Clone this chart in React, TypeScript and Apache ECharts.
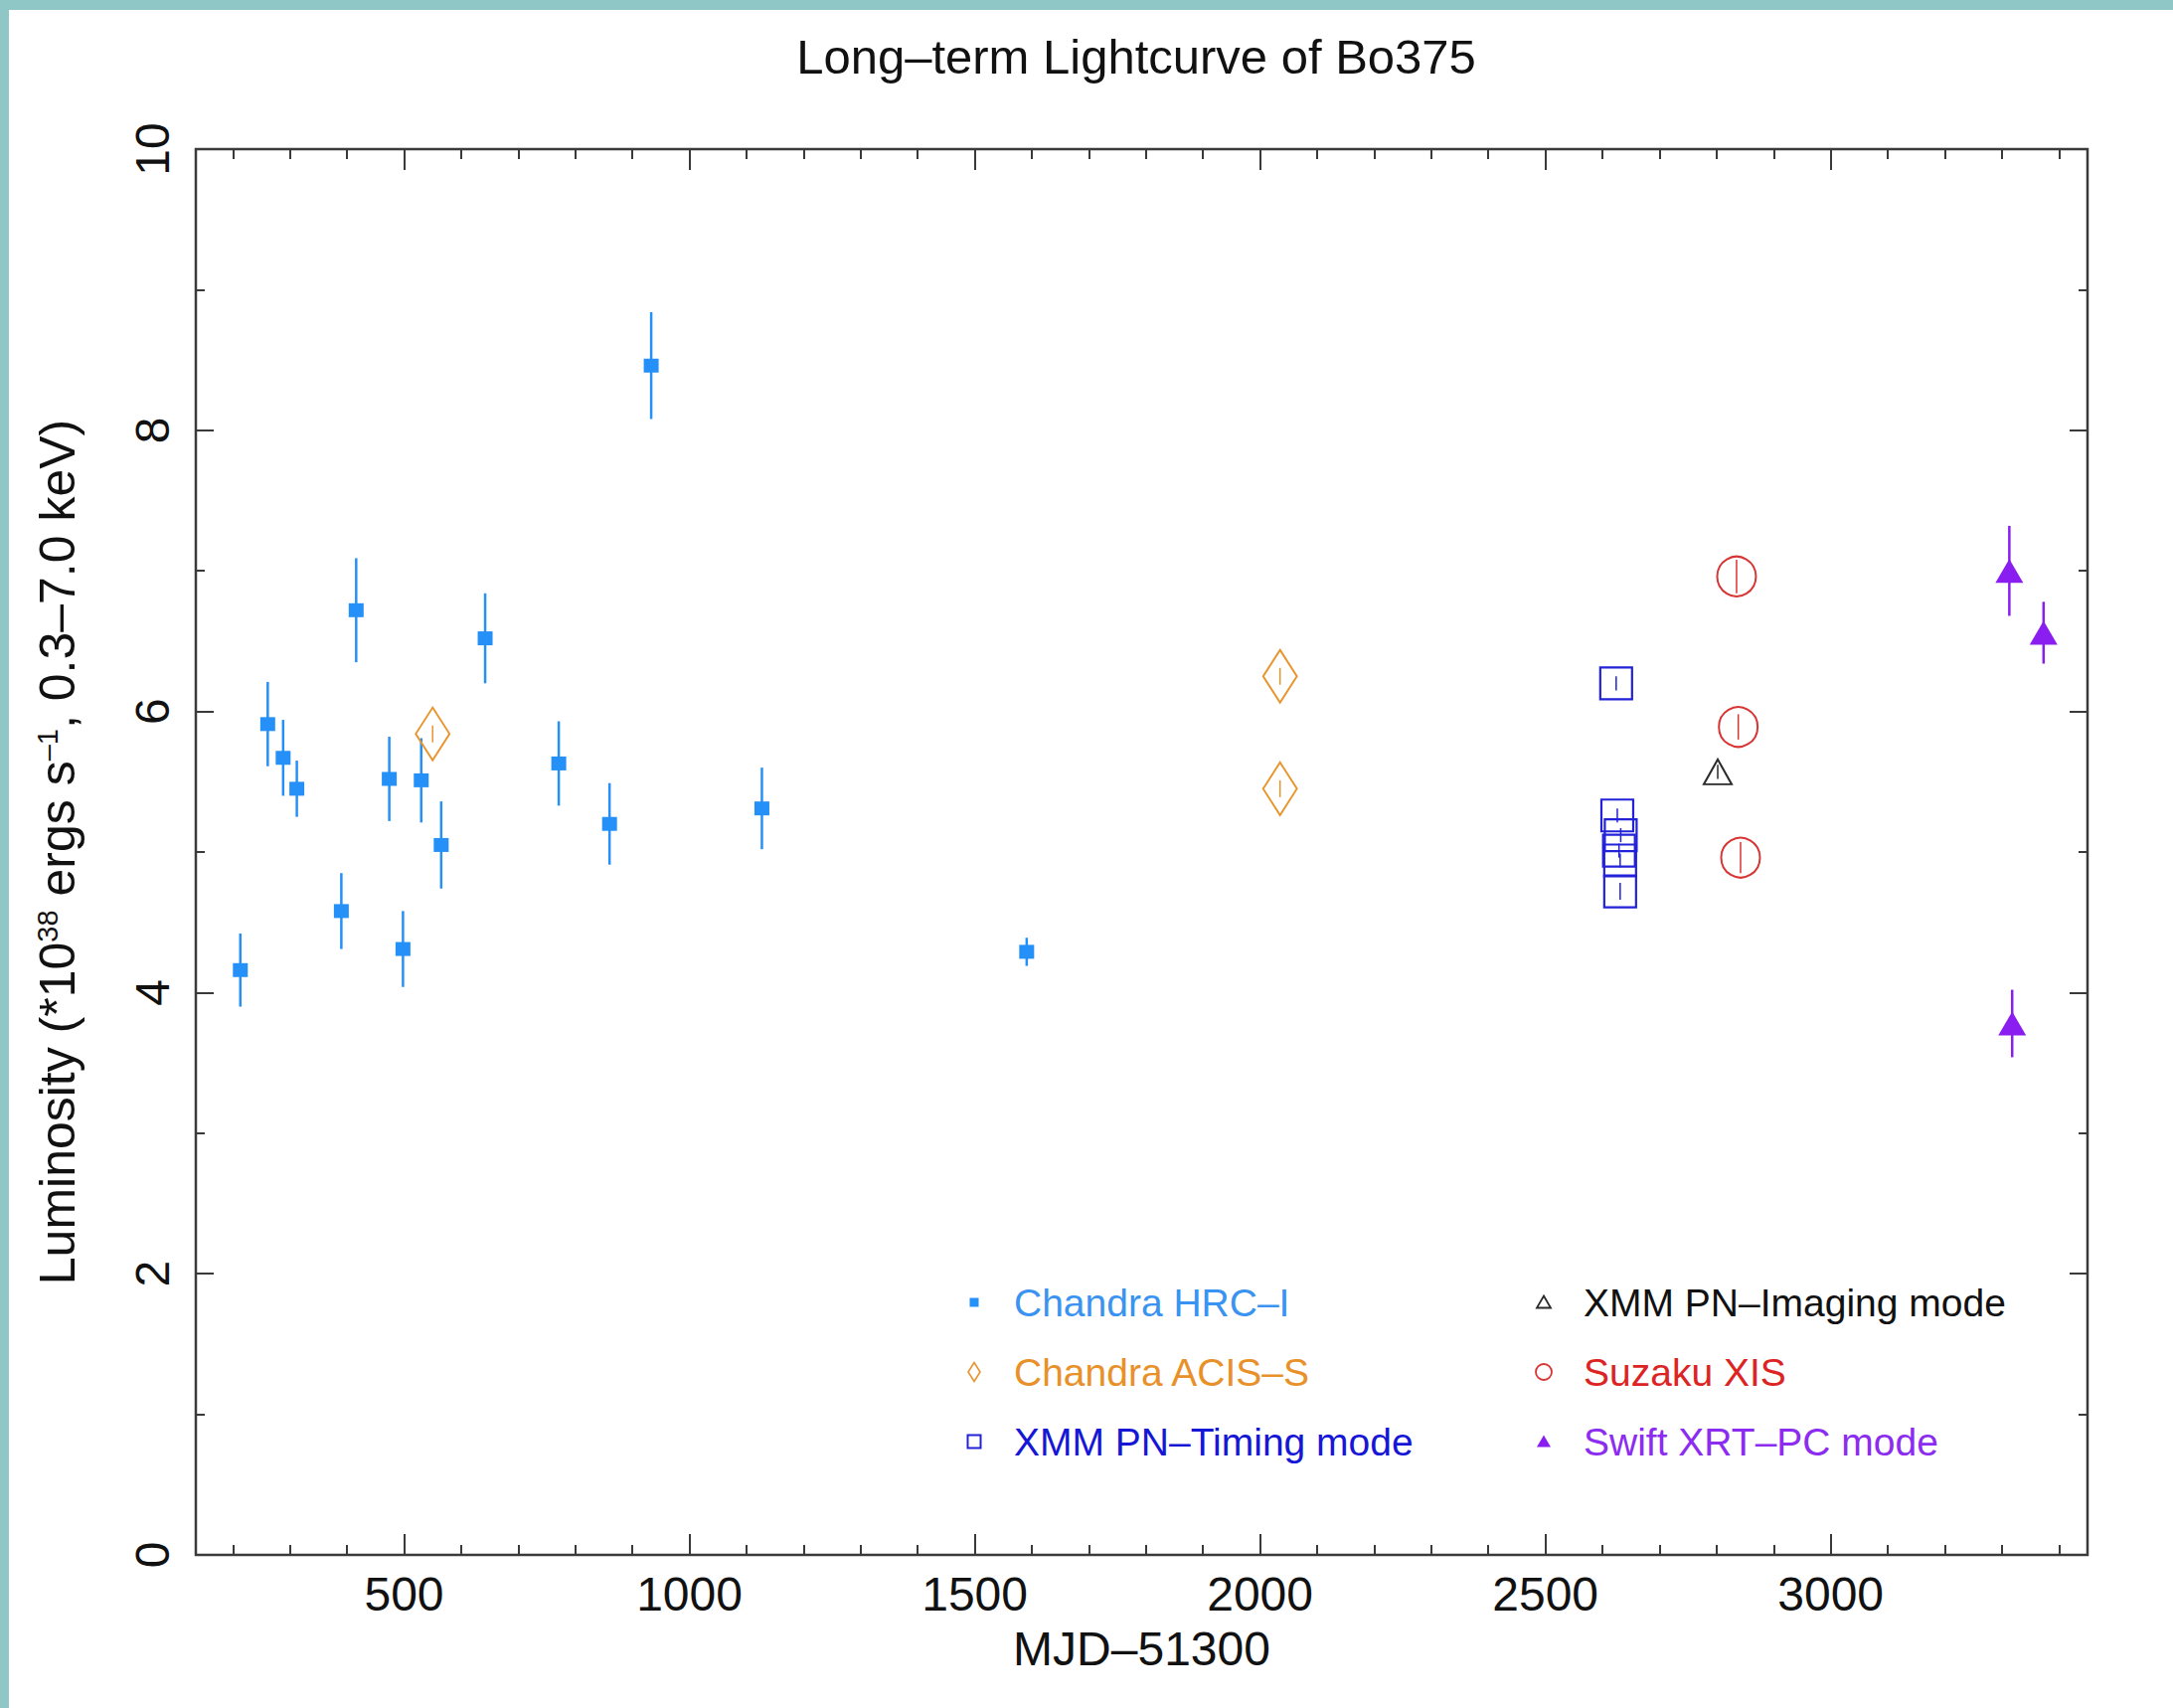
import React, { useEffect, useRef } from "react";
import * as echarts from "echarts";

const FONT = "'Liberation Sans', Arial, Helvetica, sans-serif";

// Chandra HRC-I
const hrcMjd = [213, 261, 288, 312, 390, 416, 474, 498, 530, 565, 642, 771, 860, 933, 1127, 1591];
const hrcLum = [4.16, 5.91, 5.67, 5.45, 4.58, 6.72, 5.52, 4.31, 5.51, 5.05, 6.52, 5.63, 5.2, 8.46, 5.31, 4.29];
const hrcErr = [0.26, 0.3, 0.27, 0.2, 0.27, 0.37, 0.3, 0.27, 0.3, 0.31, 0.32, 0.3, 0.29, 0.38, 0.29, 0.1];

// Chandra ACIS-S
const acisMjd = [550, 2035, 2035];
const acisLum = [5.84, 6.25, 5.45];
const acisErr = [0.06, 0.06, 0.06];

// XMM PN, timing mode
const timingMjd = [2624, 2626, 2632, 2629, 2631, 2631];
const timingLum = [6.2, 5.26, 5.12, 5.01, 4.94, 4.72];
const timingErr = [0.05, 0.05, 0.05, 0.05, 0.05, 0.06];

// XMM PN, imaging mode
const imagingMjd = [2802];
const imagingLum = [5.57];
const imagingErr = [0.05];

// Suzaku XIS
const suzakuMjd = [2835, 2838, 2842];
const suzakuLum = [6.96, 5.89, 4.96];
const suzakuErr = [0.12, 0.09, 0.11];

// Swift XRT, PC mode
const swiftMjd = [3313, 3373, 3318];
const swiftLum = [7.0, 6.56, 3.78];
const swiftErr = [0.32, 0.22, 0.24];

const X_MIN = 135;
const X_MAX = 3450;
const Y_MIN = 0;
const Y_MAX = 10;
const xMajor = [500, 1000, 1500, 2000, 2500, 3000];
const xMinor = [200, 300, 400, 600, 700, 800, 900, 1100, 1200, 1300, 1400, 1600, 1700, 1800, 1900, 2100, 2200, 2300, 2400, 2600, 2700, 2800, 2900, 3100, 3200, 3300, 3400];
const yMajor = [0, 2, 4, 6, 8, 10];
const yMinor = [1, 3, 5, 7, 9];

const C_HRC = "#2590f8";
const C_ACIS = "#e8952d";
const C_TIMING = "#2222d8";
const C_IMAGING = "#2a2a2a";
const C_SUZAKU = "#d93434";
const C_SWIFT = "#8a1ef0";

const AXIS_COLOR = "#3a3a3a";
const TEXT_COLOR = "#111";
const FRAME_COLOR = "#8fc6c6";

const zip = (xs: number[], ys: number[], es: number[]) => xs.map((x, i) => [x, ys[i], es[i]]);

const errorBars = (id: string, xs: number[], ys: number[], es: number[], color: string, width: number) => ({
  type: "custom",
  name: id,
  silent: true,
  z: 2,
  data: zip(xs, ys, es),
  encode: { x: 0, y: 1 },
  renderItem: (_params: any, api: any) => {
    const x = api.value(0);
    const y = api.value(1);
    const e = api.value(2);
    const a = api.coord([x, y + e]);
    const b = api.coord([x, y - e]);
    return {
      type: "line",
      shape: { x1: a[0], y1: a[1], x2: b[0], y2: b[1] },
      style: { stroke: color, lineWidth: width },
    };
  },
});

const points = (name: string, xs: number[], ys: number[], symbol: string, size: number | number[], itemStyle: any) => ({
  type: "scatter",
  name,
  silent: true,
  z: 3,
  symbol,
  symbolSize: size,
  itemStyle: { opacity: 1, ...itemStyle },
  data: xs.map((x, i) => [x, ys[i]]),
});

const icon = (shape: string) =>
  "image://data:image/svg+xml;charset=utf-8," +
  encodeURIComponent(
    `<svg xmlns="http://www.w3.org/2000/svg" width="45" height="22" viewBox="0 0 45 22">${shape}</svg>`
  );

const tickStyle = { color: AXIS_COLOR, width: 2 };

const xAxisDef = (position: string, values: number[], length: number, withLabels: boolean) => ({
  type: "value",
  position,
  min: X_MIN,
  max: X_MAX,
  axisLine: { show: false, onZero: false },
  splitLine: { show: false },
  axisTick: { show: true, inside: true, length, customValues: values, lineStyle: tickStyle },
  axisLabel: withLabels
    ? {
        customValues: values,
        formatter: (v: number) => String(v),
        fontSize: 48,
        fontFamily: FONT,
        color: TEXT_COLOR,
        margin: 15,
      }
    : { show: false },
  ...(withLabels
    ? {
        name: "MJD–51300",
        nameLocation: "middle",
        nameGap: 70,
        nameTextStyle: { fontSize: 48, fontFamily: FONT, color: TEXT_COLOR },
      }
    : {}),
});

const yAxisDef = (position: string, values: number[], length: number, withLabels: boolean) => ({
  type: "value",
  position,
  min: Y_MIN,
  max: Y_MAX,
  axisLine: { show: false, onZero: false },
  splitLine: { show: false },
  axisTick: { show: true, inside: true, length, customValues: values, lineStyle: tickStyle },
  axisLabel: withLabels
    ? {
        customValues: values,
        formatter: (v: number) => String(v),
        rotate: 90,
        fontSize: 48,
        fontFamily: FONT,
        color: TEXT_COLOR,
        margin: 20,
      }
    : { show: false },
  ...(withLabels
    ? {
        name: "{n|Luminosity (*10}{s|38}{n| ergs s}{s|–1}{n|, 0.3–7.0 keV)}",
        nameLocation: "middle",
        nameGap: 114,
        nameTextStyle: {
          fontSize: 50,
          fontFamily: FONT,
          color: TEXT_COLOR,
          rich: {
            n: { fontSize: 50, fontFamily: FONT, color: TEXT_COLOR },
            s: { fontSize: 29, fontFamily: FONT, color: TEXT_COLOR, verticalAlign: "top", lineHeight: 31 },
          },
        },
      }
    : {}),
});

const legendText = { fontSize: 39, fontFamily: FONT, lineHeight: 46 };

const legendBase = {
  orient: "vertical",
  top: 1287,
  padding: 0,
  itemGap: 24,
  itemWidth: 45,
  itemHeight: 22,
  selectedMode: false,
  textStyle: legendText,
};

const buildOption = () => ({
  animation: false,
  backgroundColor: "#ffffff",
  grid: {
    left: 197,
    top: 150,
    width: 1903,
    height: 1414,
    show: true,
    borderColor: AXIS_COLOR,
    borderWidth: 2.5,
    backgroundColor: "transparent",
    containLabel: false,
  },
  xAxis: [
    xAxisDef("bottom", xMajor, 21, true),
    xAxisDef("bottom", xMinor, 10, false),
    xAxisDef("top", xMajor, 21, false),
    xAxisDef("top", xMinor, 10, false),
  ],
  yAxis: [
    yAxisDef("left", yMajor, 18, true),
    yAxisDef("left", yMinor, 9, false),
    yAxisDef("right", yMajor, 18, false),
    yAxisDef("right", yMinor, 9, false),
  ],
  legend: [
    {
      ...legendBase,
      left: 970,
      data: [
        {
          name: "Chandra HRC–I",
          icon: icon(`<rect x="5.5" y="6.5" width="9" height="9" fill="${C_HRC}"/>`),
          textStyle: { color: "#3a93f0" },
        },
        {
          name: "Chandra ACIS–S",
          icon: icon(`<polygon points="10,1.5 16,11 10,20.5 4,11" fill="none" stroke="${C_ACIS}" stroke-width="1.6"/>`),
          textStyle: { color: "#e8912a" },
        },
        {
          name: "XMM PN–Timing mode",
          icon: icon(`<rect x="3.5" y="4.5" width="13" height="13" fill="none" stroke="${C_TIMING}" stroke-width="2"/>`),
          textStyle: { color: "#1616d6" },
        },
      ],
    },
    {
      ...legendBase,
      left: 1543,
      data: [
        {
          name: "XMM PN–Imaging mode",
          icon: icon(`<polygon points="10,4.5 17,16.5 3,16.5" fill="none" stroke="${C_IMAGING}" stroke-width="1.8"/>`),
          textStyle: { color: "#111111" },
        },
        {
          name: "Suzaku XIS",
          icon: icon(`<circle cx="10" cy="11" r="8" fill="none" stroke="${C_SUZAKU}" stroke-width="1.8"/>`),
          textStyle: { color: "#dc2424" },
        },
        {
          name: "Swift XRT–PC mode",
          icon: icon(`<polygon points="10,4.5 17,16.5 3,16.5" fill="${C_SWIFT}"/>`),
          textStyle: { color: "#8b2cf0" },
        },
      ],
    },
  ],
  graphic: [
    { type: "rect", silent: true, shape: { x: 0, y: 0, width: 2186, height: 10 }, style: { fill: FRAME_COLOR } },
    { type: "rect", silent: true, shape: { x: 0, y: 0, width: 9, height: 1718 }, style: { fill: FRAME_COLOR } },
    {
      type: "text",
      silent: true,
      x: 1143,
      y: 57,
      style: {
        text: "Long–term Lightcurve of Bo375",
        fontSize: 49,
        fontFamily: FONT,
        fill: TEXT_COLOR,
        align: "center",
        verticalAlign: "middle",
      },
    },
  ],
  series: [
    errorBars("hrc-err", hrcMjd, hrcLum, hrcErr, C_HRC, 2.5),
    errorBars("acis-err", acisMjd, acisLum, acisErr, C_ACIS, 1.5),
    errorBars("timing-err", timingMjd, timingLum, timingErr, C_TIMING, 1.5),
    errorBars("imaging-err", imagingMjd, imagingLum, imagingErr, C_IMAGING, 1.5),
    errorBars("suzaku-err", suzakuMjd, suzakuLum, suzakuErr, C_SUZAKU, 1.5),
    errorBars("swift-err", swiftMjd, swiftLum, swiftErr, C_SWIFT, 2.5),
    points("Chandra HRC–I", hrcMjd, hrcLum, "rect", [15, 14], { color: C_HRC }),
    points("Chandra ACIS–S", acisMjd, acisLum, "diamond", [34, 53], {
      color: "rgba(0,0,0,0)",
      borderColor: C_ACIS,
      borderWidth: 2,
    }),
    points("XMM PN–Timing mode", timingMjd, timingLum, "rect", [32, 32], {
      color: "rgba(0,0,0,0)",
      borderColor: C_TIMING,
      borderWidth: 2.2,
    }),
    points("XMM PN–Imaging mode", imagingMjd, imagingLum, "triangle", [28, 25], {
      color: "rgba(0,0,0,0)",
      borderColor: C_IMAGING,
      borderWidth: 2,
    }),
    points("Suzaku XIS", suzakuMjd, suzakuLum, "circle", [39, 40], {
      color: "rgba(0,0,0,0)",
      borderColor: C_SUZAKU,
      borderWidth: 2,
    }),
    points("Swift XRT–PC mode", swiftMjd, swiftLum, "triangle", [28, 24], { color: C_SWIFT }),
  ],
});

export default function App() {
  const ref = useRef<HTMLDivElement>(null);
  useEffect(() => {
    document.body.style.margin = "0";
    if (!ref.current) return;
    const chart = echarts.init(ref.current, null, { renderer: "svg" });
    chart.setOption(buildOption() as any);
    return () => chart.dispose();
  }, []);
  return <div ref={ref} style={{ width: 2186, height: 1718, background: "#ffffff" }} />;
}
